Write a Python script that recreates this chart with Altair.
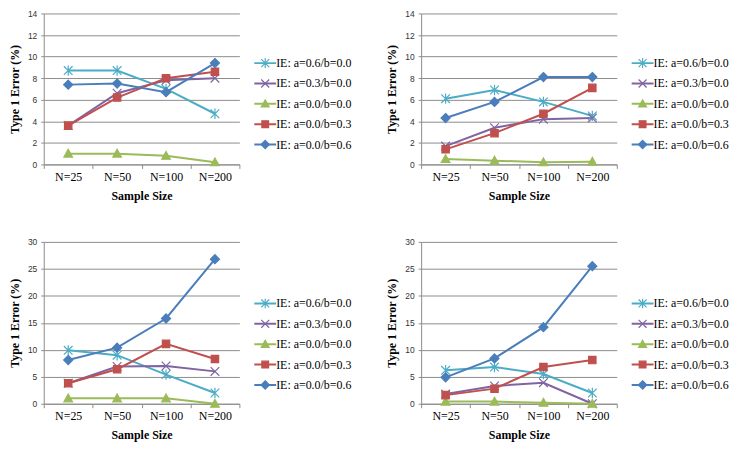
import altair as alt
import pandas as pd

categories = ["N=25", "N=50", "N=100", "N=200"]
series_names = ["IE: a=0.6/b=0.0", "IE: a=0.3/b=0.0", "IE: a=0.0/b=0.0",
                "IE: a=0.0/b=0.3", "IE: a=0.0/b=0.6"]
colors = ["#4BACC6", "#8064A2", "#9BBB59", "#C0504D", "#4A7EBB"]
shapes = [
    "M-1,-1L1,1M-1,1L1,-1M0,-1.2L0,1.2",
    "M-1,-1L1,1M-1,1L1,-1",
    "M0,-1L1,0.8L-1,0.8Z",
    "M-0.85,-0.85L0.85,-0.85L0.85,0.85L-0.85,0.85Z",
    "M0,-1.05L1.05,0L0,1.05L-1.05,0Z",
]

# top-left panel
tl_a06_b00 = [8.7, 8.7, 7.0, 4.7]
tl_a03_b00 = [3.6, 6.6, 7.8, 8.0]
tl_a00_b00 = [1.0, 1.0, 0.8, 0.2]
tl_a00_b03 = [3.6, 6.2, 8.0, 8.6]
tl_a00_b06 = [7.4, 7.5, 6.7, 9.4]
# top-right panel
tr_a06_b00 = [6.1, 6.9, 5.8, 4.5]
tr_a03_b00 = [1.7, 3.4, 4.2, 4.3]
tr_a00_b00 = [0.5, 0.35, 0.2, 0.25]
tr_a00_b03 = [1.4, 2.9, 4.7, 7.1]
tr_a00_b06 = [4.3, 5.8, 8.1, 8.1]
# bottom-left panel
bl_a06_b00 = [9.9, 9.0, 5.4, 2.0]
bl_a03_b00 = [3.8, 6.9, 7.0, 6.0]
bl_a00_b00 = [1.0, 1.0, 1.0, 0.0]
bl_a00_b03 = [3.8, 6.4, 11.1, 8.3]
bl_a00_b06 = [8.1, 10.4, 15.8, 26.8]
# bottom-right panel
br_a06_b00 = [6.2, 6.8, 5.5, 2.0]
br_a03_b00 = [1.8, 3.3, 3.9, 0.0]
br_a00_b00 = [0.4, 0.4, 0.2, 0.0]
br_a00_b03 = [1.6, 2.8, 6.8, 8.1]
br_a00_b06 = [4.9, 8.4, 14.2, 25.5]

GRID = "#8c8c8c"
SERIF = "Liberation Serif"
LX = 211


def panel(series_vals, ymax, ystep, h, ly):
    rows = []
    for name, vals in zip(series_names, series_vals):
        for c, v in zip(categories, vals):
            rows.append({"n": c, "series": name, "series2": name, "value": v})
    df = pd.DataFrame(rows)
    x = alt.X("n:N", sort=categories,
              scale=alt.Scale(type="band", paddingInner=0, paddingOuter=0),
              bandPosition=0.5,
              axis=alt.Axis(title="Sample Size", tickBand="extent", labelAngle=0,
                            labelFont=SERIF, labelFontSize=12, labelColor="#000",
                            titleFont=SERIF, titleFontSize=12, titleFontWeight="bold",
                            titleColor="#000", domainColor=GRID, tickColor=GRID,
                            tickSize=4, labelPadding=3, titlePadding=8))
    y = alt.Y("value:Q", scale=alt.Scale(domain=[0, ymax], nice=False),
              axis=alt.Axis(values=list(range(0, ymax + 1, ystep)),
                            title="Type 1 Error (%)", grid=True, gridColor=GRID,
                            domainColor=GRID, tickColor=GRID, tickSize=3,
                            labelFont="Liberation Sans", labelFontSize=8.5,
                            labelColor="#333", labelPadding=4,
                            titleFont=SERIF, titleFontSize=12, titleFontWeight="bold",
                            titleColor="#000", titlePadding=6))
    leg_line = alt.Legend(orient="none", legendX=LX, legendY=ly, title=None,
                          symbolType="stroke", symbolSize=484, symbolStrokeWidth=2,
                          clipHeight=20, rowPadding=0.5, labelExpr="''",
                          labelFont=SERIF, labelFontSize=12)
    leg_pt = alt.Legend(orient="none", legendX=LX + 4, legendY=ly, title=None,
                        symbolSize=64, symbolStrokeWidth=1.2, clipHeight=20,
                        symbolOffset=2,
                        rowPadding=0.5, labelFont=SERIF, labelFontSize=12,
                        labelColor="#000", labelOffset=5)
    lines = alt.Chart(df).mark_line(strokeWidth=2).encode(
        x=x, y=y,
        color=alt.Color("series2:N", sort=series_names,
                        scale=alt.Scale(range=colors),
                        legend=leg_line))
    pts = alt.Chart(df).mark_point(filled=True, size=76, strokeWidth=1.2, opacity=1).encode(
        x=x, y=y,
        fill=alt.Fill("series:N", scale=alt.Scale(domain=series_names, range=colors), legend=leg_pt),
        stroke=alt.Stroke("series:N", scale=alt.Scale(domain=series_names, range=colors), legend=leg_pt),
        shape=alt.Shape("series:N", scale=alt.Scale(domain=series_names, range=shapes), legend=leg_pt))
    return alt.layer(lines, pts).properties(width=197, height=h)


p1 = panel([tl_a06_b00, tl_a03_b00, tl_a00_b00, tl_a00_b03, tl_a00_b06], 14, 2, 152, 40)
p2 = panel([tr_a06_b00, tr_a03_b00, tr_a00_b00, tr_a00_b03, tr_a00_b06], 14, 2, 152, 40)
p3 = panel([bl_a06_b00, bl_a03_b00, bl_a00_b00, bl_a00_b03, bl_a00_b06], 30, 5, 163, 52)
p4 = panel([br_a06_b00, br_a03_b00, br_a00_b00, br_a00_b03, br_a00_b06], 30, 5, 163, 52)

ind = dict(color="independent", fill="independent", stroke="independent", shape="independent")
row1 = alt.hconcat(p1, p2, spacing=34).resolve_scale(**ind).resolve_legend(**ind)
row2 = alt.hconcat(p3, p4, spacing=34).resolve_scale(**ind).resolve_legend(**ind)

chart = alt.vconcat(row1, row2, spacing=37).resolve_scale(**ind).resolve_legend(**ind).properties(
    padding={"left": 0, "top": 0, "right": 0, "bottom": 0}
).configure_view(stroke=None).configure_legend(padding=0)

chart.save("out.html", embed_options={"renderer": "svg", "actions": False})
